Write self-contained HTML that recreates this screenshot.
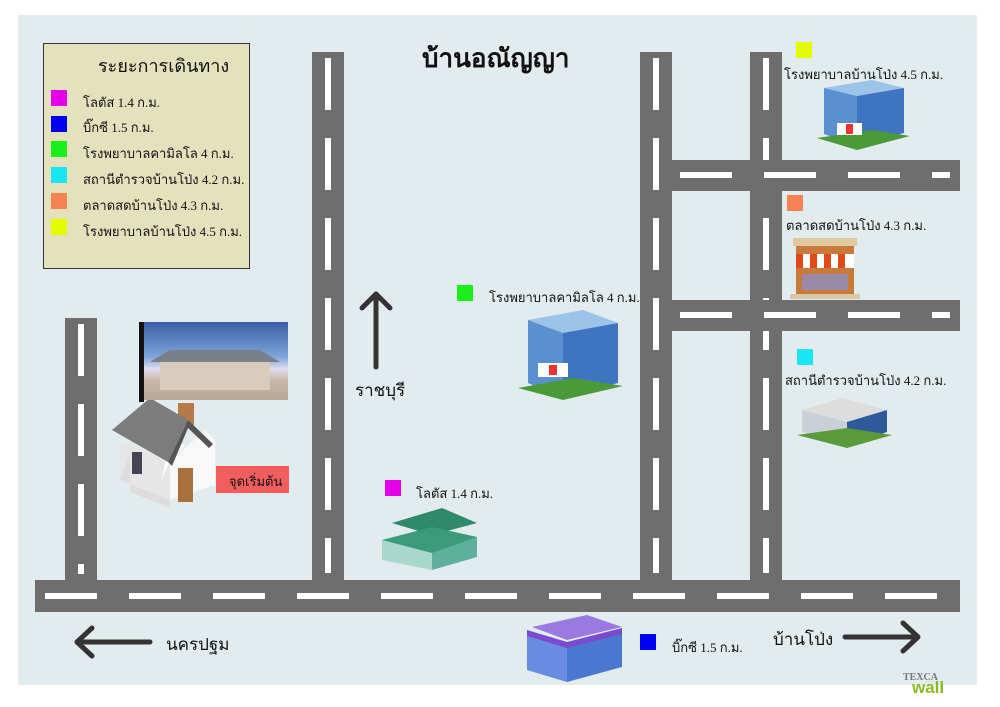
<!DOCTYPE html>
<html><head><meta charset="utf-8"><style>
body{margin:0;width:1000px;height:707px;background:#fff;position:relative;overflow:hidden;font-family:"Liberation Serif","Noto Serif CJK SC","Noto Sans CJK SC",serif;}
div{position:absolute;box-sizing:border-box;}
.rv{background:#6e6e6e;}
.rh{background:#6e6e6e;}
.dv{width:6px;background:repeating-linear-gradient(to bottom,#fff 0 52px,transparent 52px 80px);}
.dh{height:6px;background:repeating-linear-gradient(to right,#fff 0 52px,transparent 52px 84px);}
.t{white-space:nowrap;color:#111;font-size:13px;}
.sq{width:16px;height:16px;}
</style></head><body>
<div style="left:18px;top:15px;width:959px;height:670px;background:#e2ebed"></div>

<!-- roads -->
<div class="rv" style="left:312px;top:52px;width:32px;height:530px"></div>
<div class="dv" style="left:325px;top:58px;height:515px"></div>
<div class="rv" style="left:65px;top:318px;width:32px;height:264px"></div>
<div class="dv" style="left:78px;top:324px;height:250px"></div>
<div class="rv" style="left:640px;top:52px;width:32px;height:530px"></div>
<div class="dv" style="left:653px;top:58px;height:515px"></div>
<div class="rv" style="left:750px;top:52px;width:32px;height:530px"></div>
<div class="dv" style="left:763px;top:58px;height:515px"></div>
<div class="rh" style="left:672px;top:160px;width:288px;height:31px"></div>
<div class="dh" style="left:680px;top:172px;width:270px"></div>
<div class="rh" style="left:672px;top:300px;width:288px;height:31px"></div>
<div class="dh" style="left:680px;top:312px;width:270px"></div>
<div class="rh" style="left:35px;top:580px;width:925px;height:32px"></div>
<div class="dh" style="left:45px;top:593px;width:910px"></div>

<!-- legend -->
<div style="left:43px;top:43px;width:207px;height:226px;background:#e4e2bc;border:1.5px solid #333"></div>
<div class="t" style="left:98px;top:51px;font-size:18px">ระยะการเดินทาง</div>
<div class="sq" style="left:51px;top:90px;background:#e600e6"></div><div class="t" style="left:83px;top:92px">โลตัส 1.4 ก.ม.</div>
<div class="sq" style="left:51px;top:116px;background:#0000f0"></div><div class="t" style="left:83px;top:117px">บิ๊กซี 1.5 ก.ม.</div>
<div class="sq" style="left:51px;top:141px;background:#19f019"></div><div class="t" style="left:83px;top:143px">โรงพยาบาลคามิลโล 4 ก.ม.</div>
<div class="sq" style="left:51px;top:167px;background:#19e6f5"></div><div class="t" style="left:83px;top:169px">สถานีตำรวจบ้านโป่ง 4.2 ก.ม.</div>
<div class="sq" style="left:51px;top:193px;background:#f58250"></div><div class="t" style="left:83px;top:195px">ตลาดสดบ้านโป่ง 4.3 ก.ม.</div>
<div class="sq" style="left:51px;top:219px;background:#e6fa00"></div><div class="t" style="left:83px;top:221px">โรงพยาบาลบ้านโป่ง 4.5 ก.ม.</div>

<div class="t" style="left:422px;top:38px;font-size:26px;font-weight:bold">บ้านอณัญญา</div>

<!-- photo -->
<div style="left:139px;top:322px;width:5px;height:80px;background:#111"></div>
<div style="left:144px;top:322px;width:144px;height:78px;background:linear-gradient(#3b5fa8,#7fa6d8 45%,#dde 60%,#c9b8a6 75%,#b9a896)"></div>
<div style="left:160px;top:360px;width:110px;height:30px;background:#d8ccbc"></div>
<div style="left:150px;top:350px;width:130px;height:0;border-left:20px solid transparent;border-right:20px solid transparent;border-bottom:12px solid #7a7f88"></div>

<!-- house -->
<svg style="position:absolute;left:110px;top:400px" width="115" height="115">
<rect x="68" y="3" width="16" height="22" fill="#b47a4a"/>
<polygon points="10,40 60,62 60,100 10,80" fill="#e6e6e6"/>
<polygon points="60,62 95,30 105,40 105,85 60,100" fill="#f8f8f8"/>
<polygon points="52,78 60,62 75,45 60,40" fill="#fff"/>
<polygon points="2,30 40,-2 78,20 58,62" fill="#7c7c7c"/>
<polygon points="58,62 78,20 103,44 99,48 78,28 62,66" fill="#555"/>
<polygon points="20,55 20,92 60,108 60,100 10,80" fill="#ddd"/>
<rect x="68" y="68" width="15" height="34" fill="#a8703a"/>
<rect x="22" y="52" width="10" height="22" fill="#445"/>
</svg>
<div style="left:216px;top:466px;width:73px;height:27px;background:#f25e5e"></div>
<div class="t" style="left:229px;top:471px;font-size:13px">จุดเริ่มต้น</div>

<!-- arrows -->
<svg style="position:absolute;left:0;top:0" width="1000" height="707">
<g stroke="#333" stroke-width="5" fill="none" stroke-linecap="round" stroke-linejoin="round">
<path d="M376 367V295M362 308L376 294L390 308"/>
<path d="M78 642H150M92 628L77 642L92 656"/>
<path d="M845 637H917M903 623L918 637L903 651"/>
</g>
</svg>
<div class="t" style="left:355px;top:377px;font-size:17px">ราชบุรี</div>
<div class="t" style="left:166px;top:631px;font-size:17px">นครปฐม</div>
<div class="t" style="left:773px;top:626px;font-size:17px">บ้านโป่ง</div>

<!-- lotus -->
<div class="sq" style="left:385px;top:480px;background:#e600e6"></div>
<div class="t" style="left:416px;top:483px">โลตัส 1.4 ก.ม.</div>
<svg style="position:absolute;left:372px;top:505px" width="112" height="66">
<polygon points="20,18 70,3 105,18 60,30" fill="#2d8a6a"/>
<polygon points="10,35 60,22 105,32 60,50" fill="#3a9a7a"/>
<polygon points="10,35 60,48 60,65 10,55" fill="#a8d8cc"/>
<polygon points="60,48 105,32 105,52 60,65" fill="#5fb09a"/>
</svg>

<!-- hospital center -->
<div class="sq" style="left:457px;top:285px;background:#19f019"></div>
<div class="t" style="left:489px;top:287px">โรงพยาบาลคามิลโล 4 ก.ม.</div>
<svg style="position:absolute;left:513px;top:308px" width="115" height="95">
<polygon points="15,12 70,2 105,15 50,25" fill="#9bc4e8"/>
<polygon points="15,12 50,25 50,90 15,75" fill="#5a8fd0"/>
<polygon points="50,25 105,15 105,75 50,90" fill="#3f74c0"/>
<polygon points="5,80 50,92 110,78 60,70" fill="#4a9a3a"/>
<rect x="25" y="55" width="30" height="14" fill="#fff"/>
<rect x="36" y="57" width="8" height="10" fill="#e33"/>
</svg>

<!-- bigc -->
<div class="sq" style="left:640px;top:634px;background:#0000f0"></div>
<div class="t" style="left:672px;top:637px">บิ๊กซี 1.5 ก.ม.</div>
<svg style="position:absolute;left:512px;top:612px" width="115" height="75">
<polygon points="20,15 75,3 110,15 55,28" fill="#9a7ae0"/>
<polygon points="15,20 55,32 55,70 15,58" fill="#6a8ce0"/>
<polygon points="55,32 110,18 110,55 55,70" fill="#4a78d0"/>
<polygon points="15,18 55,30 110,16 110,22 55,36 15,24" fill="#7a4ad0"/>
</svg>

<!-- right side -->
<div class="sq" style="left:796px;top:42px;background:#e6fa00"></div>
<div class="t" style="left:784px;top:64px">โรงพยาบาลบ้านโป่ง 4.5 ก.ม.</div>
<svg style="position:absolute;left:812px;top:78px" width="100" height="75">
<polygon points="12,10 60,2 92,10 45,18" fill="#9bc4e8"/>
<polygon points="12,10 45,18 45,68 12,56" fill="#5a8fd0"/>
<polygon points="45,18 92,10 92,55 45,68" fill="#3f74c0"/>
<polygon points="5,60 45,72 98,58 60,52" fill="#4a9a3a"/>
<rect x="25" y="45" width="25" height="12" fill="#fff"/><rect x="34" y="46" width="7" height="10" fill="#e33"/>
</svg>
<div class="sq" style="left:787px;top:195px;background:#f58250"></div>
<div class="t" style="left:786px;top:215px">ตลาดสดบ้านโป่ง 4.3 ก.ม.</div>
<svg style="position:absolute;left:788px;top:236px" width="75" height="65">
<rect x="8" y="4" width="58" height="56" fill="#c87a3a"/>
<rect x="5" y="2" width="64" height="8" fill="#e0c9a0"/>
<g fill="#e04a1a"><rect x="8" y="18" width="7" height="14"/><rect x="22" y="18" width="7" height="14"/><rect x="36" y="18" width="7" height="14"/><rect x="50" y="18" width="7" height="14"/></g>
<g fill="#fff"><rect x="15" y="18" width="7" height="14"/><rect x="29" y="18" width="7" height="14"/><rect x="43" y="18" width="7" height="14"/><rect x="57" y="18" width="9" height="14"/></g>
<rect x="14" y="38" width="46" height="16" fill="#9a8aa8"/>
<rect x="2" y="58" width="70" height="5" fill="#d8c8a8"/>
</svg>
<div class="sq" style="left:797px;top:349px;background:#19e6f5"></div>
<div class="t" style="left:785px;top:370px">สถานีตำรวจบ้านโป่ง 4.2 ก.ม.</div>
<svg style="position:absolute;left:792px;top:390px" width="105" height="60">
<polygon points="10,20 50,8 95,20 55,32" fill="#ddd"/>
<polygon points="10,20 55,32 55,55 10,42" fill="#c9d0d8"/>
<polygon points="55,32 95,20 95,42 55,55" fill="#2e5a9a"/>
<polygon points="5,45 55,58 100,45 55,38" fill="#5a9a3a"/>
</svg>

<div class="t" style="left:903px;top:672px;font-size:10px;font-weight:bold;color:#777">TEXCA</div>
<div class="t" style="left:912px;top:678px;font-size:17px;font-weight:bold;color:#8bbb22;font-family:'Liberation Sans',sans-serif">wall</div>
</body></html>
